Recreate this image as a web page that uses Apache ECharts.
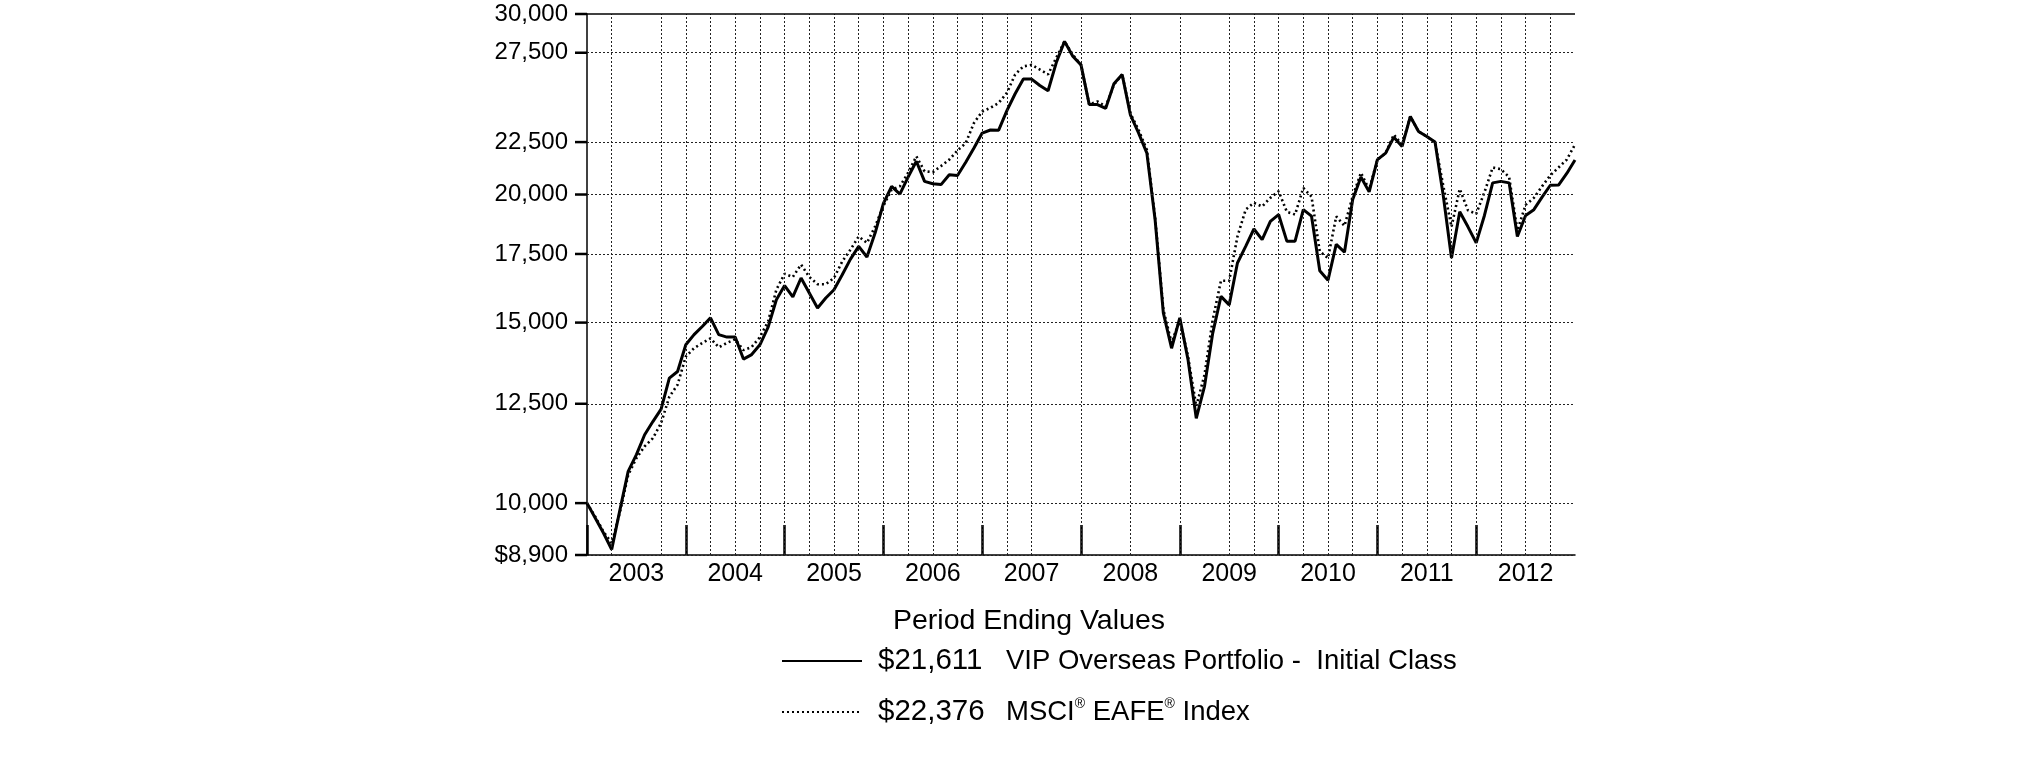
<!DOCTYPE html>
<html>
<head>
<meta charset="utf-8">
<script src="https://cdn.jsdelivr.net/npm/echarts@6/dist/echarts.min.js"></script>
<style>
html,body{margin:0;padding:0;background:#fff;}
#chart{width:2025px;height:761px;}
</style>
</head>
<body>
<div id="chart"></div>
<script>
// ---- data ----
const startYear = 2002;           // first point: Dec 2002
const monthCount = 121;           // Dec 2002 .. Dec 2012
const categories = [];
for (let i = 0; i < monthCount; i++) {
  const m = (11 + i) % 12 + 1;
  const y = startYear + Math.floor((11 + i) / 12);
  categories.push(y + '-' + (m < 10 ? '0' + m : '' + m));
}

const fundName = 'VIP Overseas Portfolio -  Initial Class';
const indexName = 'MSCI® EAFE® Index';

const fundValues = [
  10000, 9670, 9350, 9010, 9850, 10740, 11150, 11660, 12010, 12350, 13240, 13440,
  14270, 14600, 14870, 15160, 14600, 14520, 14520, 13820, 13960, 14270, 14850, 15790,
  16300, 15890, 16580, 16030, 15500, 15850, 16150, 16700, 17300, 17800, 17380, 18350,
  19600, 20370, 20020, 20800, 21550, 20600, 20490, 20450, 20910, 20870, 21500, 22200,
  22960, 23120, 23110, 24150, 25080, 25920, 25920, 25550, 25250, 26900, 28210, 27280,
  26760, 24480, 24480, 24270, 25650, 26190, 23920, 22960, 21950, 18900, 15330, 14160,
  15160, 13800, 12100, 13000, 14650, 15910, 15610, 17150, 17800, 18510, 18070, 18830,
  19120, 18010, 18010, 19330, 19050, 16850, 16500, 17880, 17570, 19780, 20800, 20120,
  21630, 21950, 22750, 22280, 23830, 23040, 22780, 22500, 19950, 17340, 19240, 18600,
  17940, 19080, 20530, 20600, 20530, 18200, 19080, 19330, 19880, 20420, 20430, 20970,
  21611
];

const indexValues = [
  10000, 9700, 9380, 9140, 9800, 10650, 11060, 11360, 11570, 11970, 12700, 13045,
  13900, 14160, 14330, 14480, 14190, 14330, 14450, 14100, 14200, 14520, 15040, 16150,
  16740, 16620, 17090, 16620, 16350, 16350, 16580, 17210, 17670, 18200, 17940, 18620,
  19500, 20220, 20370, 21000, 21790, 21070, 21030, 21320, 21630, 22080, 22450, 23490,
  24100, 24300, 24570, 25130, 26190, 26670, 26760, 26480, 26190, 27200, 28210, 27380,
  26760, 24480, 24650, 24370, 25600, 26190, 24000, 23120, 22110, 19000, 15450, 14330,
  15100, 13900, 12430, 13340, 15100, 16480, 16480, 18200, 19330, 19630, 19470, 19850,
  20150, 19240, 19120, 20300, 19900, 17600, 17340, 19040, 18640, 19920, 21000, 20220,
  21630, 21950, 22880, 22360, 23830, 23040, 22780, 22480, 20400, 18600, 20250, 19300,
  19150, 20100, 21250, 21170, 20800, 18450, 19540, 19850, 20370, 20880, 21250, 21630,
  22376
];

// y-axis tick values (log scale)
const yTicks = [8900, 10000, 12500, 15000, 17500, 20000, 22500, 27500, 30000];
// month indexes that carry a vertical dotted grid line
const gridMonthIdx = [3, 9, 12, 15, 18, 21, 24, 27, 30, 33, 36, 39, 42, 45, 48, 51, 54, 60,
  66, 72, 78, 81, 84, 87, 90, 93, 96, 99, 102, 105, 108, 111, 114, 117];

// ---- chart ----
const FF = "'Liberation Sans', Arial, Helvetica, sans-serif";
const fmtNum = v => v.toLocaleString('en-US');
const gridStyle = {color: '#222', width: 1, type: [2, 2]};

const chart = echarts.init(document.getElementById('chart'), null, {renderer: 'canvas'});
chart.setOption({
  animation: false,
  backgroundColor: '#fff',
  title: {
    text: 'Period Ending Values',
    left: 893, top: 606, padding: 0,
    textStyle: {fontFamily: FF, fontSize: 28.5, fontWeight: 'normal', color: '#000', lineHeight: 30}
  },
  legend: {
    orient: 'vertical',
    left: 781, top: 646, padding: 0,
    itemWidth: 80, itemHeight: 14, itemGap: 21,
    selectedMode: false,
    itemStyle: {opacity: 0},
    data: [fundName, indexName],
    formatter: function (name) {
      if (name === fundName) {
        return '{p|}{v|$' + fmtNum(fundValues[fundValues.length - 1]) + '}{n|' + fundName + '}';
      }
      return '{p|}{v|$' + fmtNum(indexValues[indexValues.length - 1]) + '}{n|MSCI}{s|®}{n| EAFE}{s|®}{n| Index}';
    },
    textStyle: {
      fontFamily: FF, color: '#000',
      rich: {
        p: {width: 11, height: 2},
        v: {fontFamily: FF, fontSize: 29.5, width: 128, color: '#000', lineHeight: 30},
        n: {fontFamily: FF, fontSize: 27.5, color: '#000', lineHeight: 30},
        s: {fontFamily: FF, fontSize: 14, color: '#000', verticalAlign: 'top', lineHeight: 20}
      }
    }
  },
  grid: {left: 587, right: 450, top: 14, bottom: 206, containLabel: false},
  xAxis: {
    type: 'category',
    data: categories,
    boundaryGap: false,
    axisLine: {show: true, lineStyle: {color: '#000', width: 1.5}},
    axisTick: {
      show: true, inside: true, length: 30,
      interval: (i) => i % 12 === 0 && i < monthCount - 1,
      lineStyle: {color: '#000', width: 2.5}
    },
    axisLabel: {
      interval: (i) => i % 12 === 6,
      formatter: (v) => v.slice(0, 4),
      fontFamily: FF, fontSize: 25, color: '#000', margin: 7
    },
    splitLine: {show: false}
  },
  yAxis: {
    type: 'log', logBase: 10,
    min: 8900, max: 30000,
    axisLine: {show: true, lineStyle: {color: '#000', width: 1.5}},
    axisTick: {show: false},
    axisLabel: {show: false},
    splitLine: {show: false}
  },
  series: [
    {
      name: fundName, type: 'line', data: fundValues,
      symbol: 'none', z: 4,
      lineStyle: {color: '#000', width: 3},
      itemStyle: {color: '#000'},
      markLine: {
        silent: true, animation: false,
        symbol: ['none', 'none'],
        lineStyle: gridStyle,
        label: {show: false},
        data: gridMonthIdx.map(i => ({xAxis: categories[i]}))
      }
    },
    {
      name: indexName, type: 'line', data: indexValues,
      symbol: 'none', z: 3,
      lineStyle: {color: '#000', width: 2.6, type: [2, 3]},
      itemStyle: {color: '#000'},
      markLine: {
        silent: true, animation: false,
        symbol: ['none', 'none'],
        lineStyle: gridStyle,
        label: {
          show: true, position: 'start', distance: 0,
          formatter: function (p) {
            const v = p.value;
            const txt = (v === yTicks[0] ? '$' : '') + fmtNum(v);
            return '{a|' + txt + '}{g|}{t|}';
          },
          rich: {
            a: {fontFamily: FF, fontSize: 24, color: '#000'},
            g: {width: 7, height: 2},
            t: {width: 12, height: 2.5, backgroundColor: '#000'}
          }
        },
        data: yTicks.map(v => v === yTicks[yTicks.length - 1]
          ? {yAxis: v, lineStyle: {type: 'solid', color: '#000', width: 1.5}}
          : {yAxis: v})
      }
    }
  ]
});
</script>
</body>
</html>
